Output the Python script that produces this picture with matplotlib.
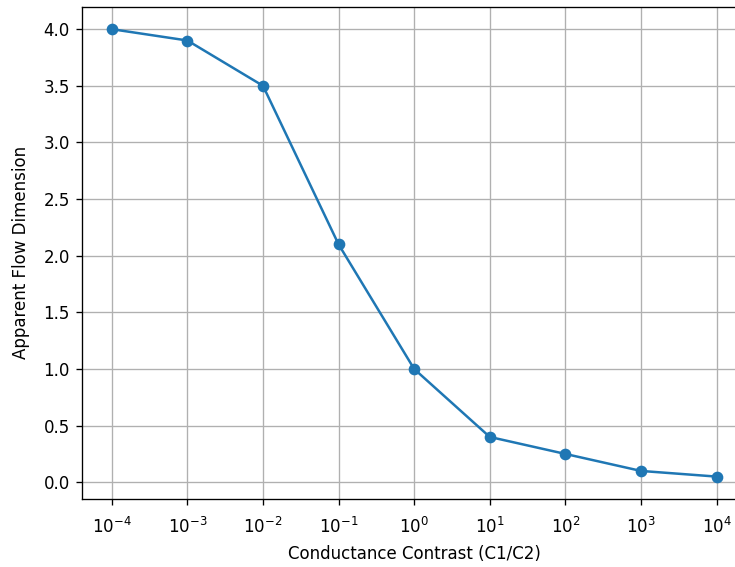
import matplotlib

matplotlib.use("Agg")
import matplotlib.pyplot as plt

# conductance ratio C1/C2 and the fitted flow dimension
contrast = [1e-4, 1e-3, 1e-2, 1e-1, 1e0, 1e1, 1e2, 1e3, 1e4]
flow_dim = [4.0, 3.9, 3.5, 2.1, 1.0, 0.4, 0.25, 0.1, 0.05]

fig, ax = plt.subplots(figsize=(6.125, 4.725), dpi=120)
# axes run a little past the right edge of the canvas
fig.subplots_adjust(left=0.111, right=1.016, top=0.988, bottom=0.120)

ax.plot(contrast, flow_dim, marker="o")
ax.set_xscale("log")
ax.minorticks_off()
ax.tick_params(axis="x", pad=7)
ax.set_xlabel("Conductance Contrast (C1/C2)", labelpad=5)
ax.set_ylabel("Apparent Flow Dimension", labelpad=8)
ax.grid(True)

fig.savefig("out.png", dpi=120)
